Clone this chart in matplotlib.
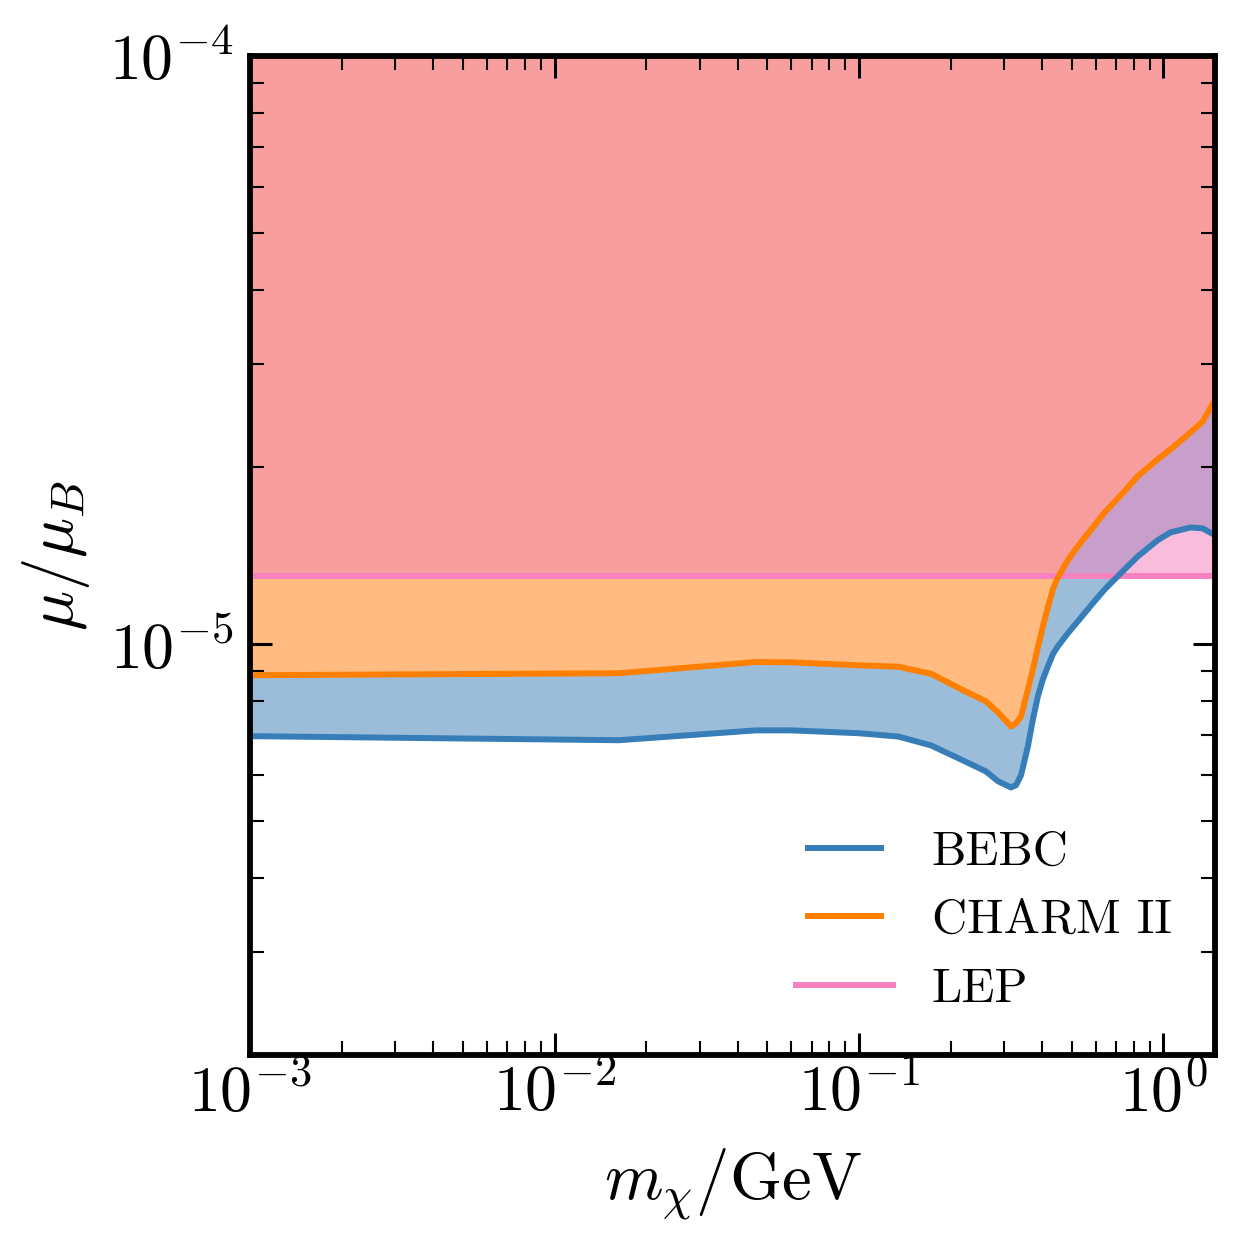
import numpy as np
import matplotlib
matplotlib.use('Agg')
import matplotlib.pyplot as plt
from matplotlib.legend_handler import HandlerLine2D
from matplotlib.ticker import LogLocator, NullFormatter

plt.rcParams['mathtext.fontset'] = 'cm'
plt.rcParams['font.family'] = 'serif'
plt.rcParams['font.serif'] = ['cmr10']
plt.rcParams['axes.formatter.use_mathtext'] = True

# mass grid (GeV) and the upper bounds on mu/mu_B
m_chi = np.array([0.001, 0.0163, 0.0458, 0.0601, 0.1, 0.1346, 0.1726, 0.2234,
                  0.2612, 0.2861, 0.3157, 0.3279, 0.3406, 0.3588, 0.3725, 0.3869,
                  0.4018, 0.4173, 0.4333, 0.4498, 0.4852, 0.5232, 0.5858, 0.6413,
                  0.7345, 0.8226, 0.9565, 1.055, 1.227, 1.343, 1.481])
bebc = np.array([6.98e-6, 6.87e-6, 7.14e-6, 7.14e-6, 7.06e-6, 6.97e-6, 6.73e-6, 6.32e-6,
                 6.08e-6, 5.85e-6, 5.71e-6, 5.76e-6, 5.99e-6, 6.71e-6, 7.45e-6, 8.16e-6,
                 8.72e-6, 9.17e-6, 9.62e-6, 9.92e-6, 1.044e-5, 1.094e-5, 1.174e-5, 1.24e-5,
                 1.331e-5, 1.41e-5, 1.503e-5, 1.55e-5, 1.58e-5, 1.575e-5, 1.532e-5])
charm = np.array([8.86e-6, 8.93e-6, 9.33e-6, 9.32e-6, 9.21e-6, 9.16e-6, 8.91e-6, 8.32e-6,
                  8.00e-6, 7.66e-6, 7.25e-6, 7.34e-6, 7.54e-6, 8.38e-6, 9.07e-6, 9.88e-6,
                  1.073e-5, 1.156e-5, 1.24e-5, 1.30e-5, 1.39e-5, 1.468e-5, 1.58e-5, 1.677e-5,
                  1.806e-5, 1.931e-5, 2.063e-5, 2.146e-5, 2.293e-5, 2.39e-5, 2.61e-5])
lep = 1.305e-5

labels = ['BEBC', 'CHARM II', 'LEP']
line_colors = ['#377eb8', '#ff7f00', '#f781bf']

y_lo, y_hi = 2e-6, 1e-4

fig = plt.figure(figsize=(12.44, 12.49), dpi=100)
ax = fig.add_axes([0.201, 0.155, 0.776, 0.8])

# excluded regions, layered
top = np.full_like(m_chi, y_hi)
ax.fill_between(m_chi, bebc, top, color='#9bbdda', lw=0)
ax.fill_between(m_chi, charm, top, color='#ffbb80', lw=0)
ax.fill_between(m_chi, np.full_like(m_chi, lep), top, color='#f9bcdd', lw=0)
ax.fill_between(m_chi, np.maximum(charm, lep), top, color='#f89e9e', lw=0)
lower = np.maximum(bebc, lep)
ax.fill_between(m_chi, lower, charm, where=charm > lower, interpolate=True,
                color='#c89ecb', lw=0)

l3 = ax.axhline(lep, color=line_colors[2], lw=4.3, label=labels[2])
l1, = ax.plot(m_chi, bebc, color=line_colors[0], lw=4.3, label=labels[0])
l2, = ax.plot(m_chi, charm, color=line_colors[1], lw=4.3, label=labels[1])

ax.set_xscale('log')
ax.set_yscale('log')
ax.set_xlim(m_chi[0], m_chi[-1])
ax.set_ylim(y_lo, y_hi)

ax.xaxis.set_minor_locator(LogLocator(base=10, subs=np.arange(2, 10), numticks=20))
ax.yaxis.set_minor_locator(LogLocator(base=10, subs=np.arange(2, 10), numticks=20))
ax.xaxis.set_minor_formatter(NullFormatter())
ax.yaxis.set_minor_formatter(NullFormatter())

ax.tick_params(which='both', direction='in', top=True, right=True)
ax.tick_params(which='major', length=16, width=2.2, labelsize=46)
ax.tick_params(which='minor', length=10, width=1.5)
ax.tick_params(axis='x', which='major', pad=6)
ax.tick_params(axis='y', which='major', pad=12)
for s in ax.spines.values():
    s.set_linewidth(4.2)

ax.set_xlabel(r'$m_\chi/\mathrm{GeV}$', fontsize=48, labelpad=16)
ax.set_ylabel(r'$\mu/\mu_B$', fontsize=48, labelpad=12)

short = HandlerLine2D(numpoints=2, marker_pad=0.25)
ax.legend([l1, l2, l3], labels, loc='lower right', frameon=False, fontsize=35,
          handler_map={l1: short, l2: short, l3: HandlerLine2D(numpoints=1)})

fig.savefig('out.png', dpi=100)
